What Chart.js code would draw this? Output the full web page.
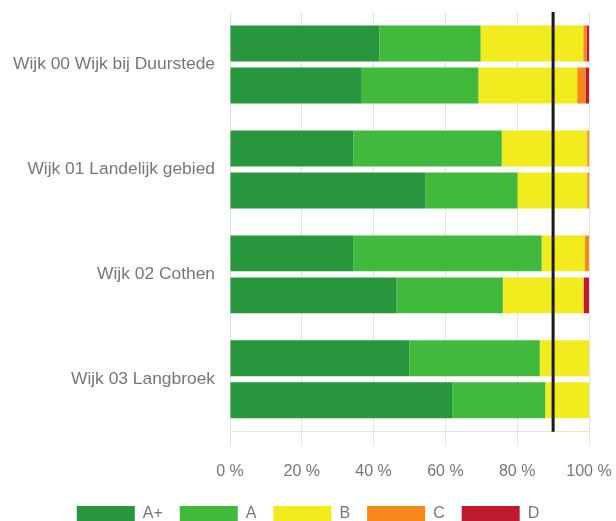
<!DOCTYPE html>
<html>
<head>
<meta charset="utf-8">
<script src="https://cdn.jsdelivr.net/npm/chart.js@4/dist/chart.umd.min.js"></script>
<style>
  html, body { margin: 0; padding: 0; background: #fff; overflow: hidden; }
  #wrap { position: relative; width: 616px; height: 532px; }
</style>
</head>
<body>
<div id="wrap"><canvas id="labelChart"></canvas></div>
<script>
// wijken (categorie-as)
const wijken = ['Wijk 00 Wijk bij Duurstede', 'Wijk 01 Landelijk gebied', 'Wijk 02 Cothen', 'Wijk 03 Langbroek'];
const labels = ['A+', 'A', 'B', 'C', 'D'];
const kleuren = ['#27963C', '#41B93C', '#F2EC1F', '#F7871A', '#C01A2E'];

// aandeel per energielabel (%), bovenste balk per wijk
const boven = {
  'A+': [41.6, 34.4, 34.3, 50.0],
  'A':  [28.2, 41.3, 52.5, 36.3],
  'B':  [28.6, 23.8, 12.1, 13.7],
  'C':  [0.9, 0.5, 1.1, 0],
  'D':  [0.7, 0, 0, 0]
};
// onderste balk per wijk
const onder = {
  'A+': [36.7, 54.5, 46.4, 62.0],
  'A':  [32.5, 25.6, 29.6, 25.8],
  'B':  [27.5, 19.4, 22.4, 12.2],
  'C':  [2.3, 0.5, 0.2, 0],
  'D':  [1.0, 0, 1.4, 0]
};
const xTicks = [0, 20, 40, 60, 80, 100];
const doel = 90; // streeflijn in %

const tekstKleur = '#777';
const gridKleur = '#e3e3e3';
const font = 'Liberation Sans, Arial, sans-serif';

let datasets = [];
labels.forEach((l, i) => {
  datasets.push({ label: l, data: boven[l], backgroundColor: kleuren[i], stack: 'boven', barPercentage: 0.857, categoryPercentage: 0.8 });
});
labels.forEach((l, i) => {
  datasets.push({ label: l, data: onder[l], backgroundColor: kleuren[i], stack: 'onder', barPercentage: 0.857, categoryPercentage: 0.8 });
});

// verticale streeflijn over het hele plotvlak
const doelLijn = {
  id: 'doelLijn',
  afterDatasetsDraw(chart){
    const {ctx, chartArea, scales} = chart;
    const x = scales.x.getPixelForValue(doel);
    ctx.save();
    ctx.strokeStyle = '#1a1a1a';
    ctx.lineWidth = 3;
    ctx.beginPath();
    ctx.moveTo(x, chartArea.top);
    ctx.lineTo(x, chartArea.bottom);
    ctx.stroke();
    ctx.restore();
  }
};

new Chart(document.getElementById('labelChart'), {
  type: 'bar',
  data: { labels: wijken, datasets },
  options: {
    indexAxis: 'y',
    responsive: true,
    maintainAspectRatio: false,
    animation: false,
    layout: { padding: { top: 12, right: 0, left: 0, bottom: 0 } },
    plugins: {
      tooltip: { enabled: false },
      legend: {
        position: 'bottom',
        labels: {
          filter: item => item.datasetIndex < labels.length,
          boxWidth: 58,
          boxHeight: 16,
          padding: 17,
          color: tekstKleur,
          font: { family: font, size: 16 }
        }
      }
    },
    scales: {
      x: {
        stacked: true,
        min: 0,
        max: 100,
        afterBuildTicks: scale => { scale.ticks = xTicks.map(v => ({ value: v })); },
        afterFit: scale => {
          scale.height -= 8;
          scale.paddingLeft = 0;
          scale.paddingRight = 27; // ruimte voor "100 %"
        },
        grid: { color: gridKleur, tickLength: 14, tickColor: gridKleur },
        border: { color: gridKleur },
        ticks: {
          color: tekstKleur,
          padding: 16,
          maxRotation: 0,
          font: { family: font, size: 16 },
          callback: v => v + ' %'
        }
      },
      y: {
        stacked: true,
        afterFit: scale => {
          scale.width = 230;
          scale.paddingTop = 0;
          scale.paddingBottom = 0;
        },
        grid: { display: false, drawTicks: false },
        border: { color: gridKleur },
        ticks: {
          color: tekstKleur,
          padding: 15,
          font: { family: font, size: 17.4 }
        }
      }
    }
  },
  plugins: [doelLijn]
});
</script>
</body>
</html>
